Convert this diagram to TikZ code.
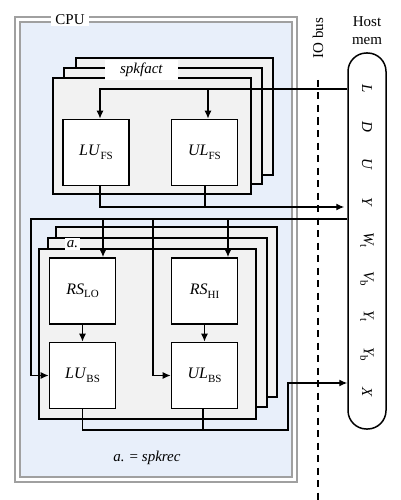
\documentclass[tikz,border=0pt]{standalone}
\usepackage{fontspec}
\setmainfont{Liberation Serif}
\usetikzlibrary{arrows.meta}
\definecolor{cpufill}{HTML}{E8EFFA}
\definecolor{cpuline}{HTML}{A0A0A0}
\definecolor{framefill}{HTML}{F2F2F2}
\newcommand{\lowsub}[1]{\raisebox{-3.5pt}{\fontsize{11}{12}\selectfont #1}}
\begin{document}
\begin{tikzpicture}[x=1pt,y=-1pt,
  frame/.style={draw,line width=1.5pt,fill=framefill},
  unit/.style={draw,line width=1.6pt,fill=white,minimum width=66pt,minimum height=66pt,inner sep=0pt,font=\fontsize{16}{18}\selectfont},
  wire/.style={line width=1.3pt},
  arr/.style={wire,-{Latex[length=8pt,width=7pt]}},
  lab/.style={font=\fontsize{15}{18}\selectfont},
  memlab/.style={rotate=-90,font=\fontsize{15}{17}\selectfont\itshape,inner sep=0pt},
  cpubox/.style={draw=cpuline,line width=1.6pt}]
\useasboundingbox (0,0) rectangle (401,500);
% CPU container
\draw[cpubox,fill=white] (15,17) rectangle (297,482);
\draw[cpubox,fill=cpufill] (20,22) rectangle (292,477);
\node[lab,fill=white,inner xsep=4pt,inner ysep=1pt] (cpu) at (70,20) {CPU};
% IO bus
\coordinate (busT) at (318,80);
\coordinate (busB) at (318,500);
\draw[line width=2.6pt,dash pattern=on 7pt off 5.5pt] (busT) -- (busB);
\node[lab,rotate=90] (iobus) at (318,38) {IO bus};
% Host memory
\node[lab,align=center] (hostlab) at (367,31) {Host\\mem};
\node[draw,line width=1.5pt,rounded corners=18.5pt,minimum width=38pt,minimum height=376pt] (host) at (367,241) {};
\node[memlab] (mL) at (367,89) {L};
\node[memlab] (mD) at (367,127) {D};
\node[memlab] (mU) at (367,164) {U};
\node[memlab] (mY) at (367,202) {Y};
\node[memlab] (mWt) at (367,240) {W\lowsub{\upshape t}};
\node[memlab] (mVb) at (367,279) {V\lowsub{\upshape b}};
\node[memlab] (mYt) at (367,316) {Y\lowsub{\upshape t}};
\node[memlab] (mYb) at (367,354) {Y\lowsub{\upshape b}};
\node[memlab] (mX) at (367,392) {X};
% spkfact stack
\draw[frame] (76,58) rectangle (273,175);
\draw[frame] (64,68) rectangle (262,184);
\draw[frame] (53,78) rectangle (251,194);
\node[lab,fill=white,minimum width=73pt,minimum height=20pt,inner sep=0pt] (spkfact) at (141.5,70) {\textit{spkfact}};
\node[unit] (lufs) at (96,152.5) {\textit{LU}\lowsub{FS}};
\node[unit] (ulfs) at (204.5,152.5) {\textit{UL}\lowsub{FS}};
% a. stack
\draw[frame] (56,227) rectangle (277,397);
\draw[frame] (48,238) rectangle (267,407);
\draw[frame] (39,249) rectangle (256,419);
\node[lab,fill=white,minimum width=15pt,minimum height=12pt,inner sep=0pt] (atag) at (72.5,244) {\textit{a.}};
\node[unit] (rslo) at (82.5,291) {\textit{RS}\lowsub{LO}};
\node[unit] (rshi) at (204.5,291) {\textit{RS}\lowsub{HI}};
\node[unit] (lubs) at (82.5,375.5) {\textit{LU}\lowsub{BS}};
\node[unit] (ulbs) at (204.5,375.5) {\textit{UL}\lowsub{BS}};
\node[lab] (legend) at (147,458) {\textit{a.} = \textit{spkrec}};
% spkfact connectors
\draw[arr] (host.west |- mL) -| ([xshift=4pt]lufs.north);
\draw[arr] ([xshift=3.5pt]ulfs.north |- mL) -- ([xshift=3.5pt]ulfs.north);
\coordinate (fsout) at (0,207);
\draw[arr] ([xshift=4pt]lufs.south) |- ([xshift=-3pt]host.west |- fsout);
\draw[wire] ([xshift=0.5pt]ulfs.south) -- ([xshift=0.5pt]ulfs.south |- fsout);
% a. inputs
\coordinate (wy) at (0,219);
\coordinate (wl) at (31,219);
\coordinate (b1) at (103,219);
\coordinate (b2) at (153,219);
\coordinate (b3) at (228,219);
\draw[arr] (host.west |- wy) -- (wl) |- (lubs.west);
\draw[arr] (b1) -- (b1 |- rslo.north);
\draw[arr] (b2) |- (ulbs.west);
\draw[arr] (b3) -- (b3 |- rshi.north);
\draw[arr] (rslo) -- (lubs);
\draw[arr] (rshi) -- (ulbs);
% a. outputs
\coordinate (bsy) at (288,430);
\coordinate (xin) at (0,383);
\draw[arr] (lubs.south) |- (bsy) |- (host.west |- xin);
\draw[wire] ([xshift=-1.5pt]ulbs.south) -- ([xshift=-1.5pt]ulbs.south |- bsy);
\end{tikzpicture}
\end{document}
